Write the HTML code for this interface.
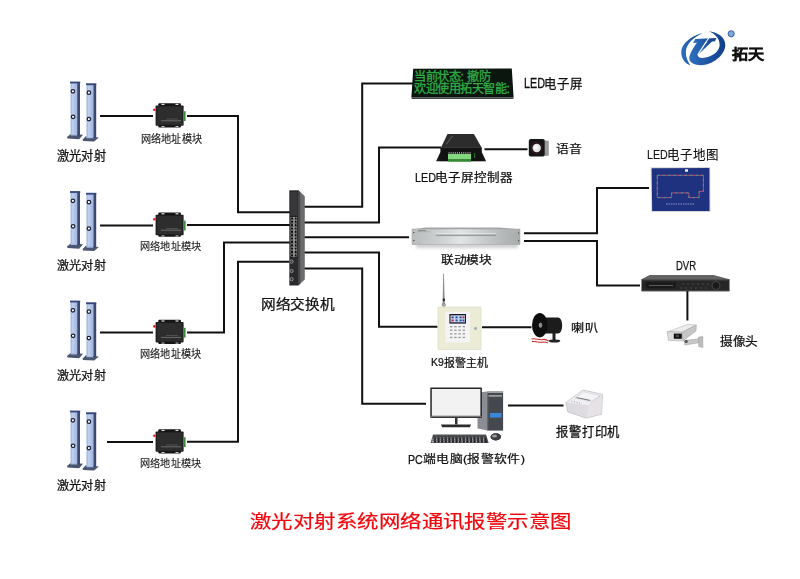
<!DOCTYPE html>
<html lang="zh-CN"><head><meta charset="utf-8">
<style>
html,body{margin:0;padding:0;background:#fff;}
body{width:800px;height:579px;position:relative;overflow:hidden;font-family:"Liberation Sans",sans-serif;color:#111;font-weight:500;-webkit-text-stroke:0.25px #111;}
svg{position:absolute;left:0;top:0;}
.t{position:absolute;white-space:nowrap;line-height:1;transform-origin:0 0;}
.sm{font-size:10px;letter-spacing:0.5px;transform:scaleY(1.22);transform-origin:0 0;}
</style></head><body>
<svg width="800" height="579" viewBox="0 0 800 579">

<g fill="none" stroke="#111" stroke-width="2" stroke-linejoin="miter">
<path d="M100 116H153M187 116H238V212.3H290"/>
<path d="M100 225.4H153M187 225H290"/>
<path d="M100 332.6H153M187 332.4H224V242.5H290"/>
<path d="M107 442H153M187 441.8H238V261.8H290"/>
<path d="M304 206.8H362.2V83.5H413"/>
<path d="M304 222.5H379V147.6H441"/>
<path d="M484.5 149.2H527.5"/>
<path d="M304 237.3H409"/>
<path d="M304 252.4H379V326.8H437.5"/>
<path d="M482 327.3H531.5"/>
<path d="M304 268.6H362.2V403.8H426"/>
<path d="M508 405.4H563.5"/>
<path d="M524 233.2H597V188H649"/>
<path d="M524 241H597V285.5H640"/>
<path d="M687.4 291V320.5"/>
</g>

<g id="tw">
<!-- base plates -->
<path d="M67 137L71 133.8L83 134.7L79.2 139.2L67.5 138.6Z" fill="#4a5570"/>
<path d="M82.5 139.8L85.8 136.3L98.8 137.5L94.2 141.6L83 141Z" fill="#4a5570"/>
<!-- tower 1 -->
<rect x="70.5" y="82.5" width="6.7" height="53" fill="#a9bde3"/>
<rect x="72" y="84" width="2.5" height="50" fill="#bccdee"/>
<rect x="77.2" y="82.5" width="2.8" height="53" fill="#3a4872"/>
<rect x="70" y="81.6" width="10.2" height="1.8" fill="#34457a"/>
<!-- tower 2 -->
<rect x="86.4" y="84.2" width="7" height="54" fill="#a9bde3"/>
<rect x="88" y="86" width="2.5" height="51" fill="#bccdee"/>
<rect x="93.4" y="84.2" width="2.8" height="54" fill="#3a4872"/>
<rect x="86" y="83.3" width="10.3" height="1.8" fill="#34457a"/>
<!-- holes -->
<g fill="#fff" stroke="#1a1e2e" stroke-width="1.2">
<circle cx="72.9" cy="91.3" r="1.75"/>
<circle cx="73.1" cy="116.8" r="1.75"/>
<circle cx="88.9" cy="92.7" r="1.75"/>
<circle cx="88.9" cy="119.1" r="1.75"/>
</g>
</g>

<g id="md">
<rect x="158.3" y="103.2" width="22.6" height="24.2" rx="1" fill="#151515"/>
<rect x="155.6" y="105.4" width="28" height="20.4" rx="0.8" fill="#1a1a1a"/>
<rect x="156.8" y="106.4" width="25.6" height="18.4" fill="#2d2d2d"/>
<rect x="161.5" y="103.8" width="3" height="1.2" fill="#ddd"/>
<rect x="175.5" y="103.8" width="3" height="1.2" fill="#ddd"/>
<rect x="161.5" y="126" width="3" height="1" fill="#ccc"/>
<rect x="175.5" y="126" width="3" height="1" fill="#ccc"/>
<circle cx="154.4" cy="109.8" r="1.3" fill="#e02020"/>
<rect x="183.6" y="111.2" width="2" height="9.8" fill="#3c8a3c"/>
<rect x="161" y="120.3" width="20" height="1" fill="#888" opacity="0.7"/>
<rect x="166" y="118.6" width="12" height="0.8" fill="#777" opacity="0.6"/>
</g>

<use href="#tw" transform="translate(0 109.5)"/>
<use href="#tw" transform="translate(0 219)"/>
<use href="#tw" transform="translate(0 329)"/>
<use href="#md" transform="translate(0 109.4)"/>
<use href="#md" transform="translate(0 216.6)"/>
<use href="#md" transform="translate(0 326)"/>

<g id="swg">
<path d="M298.3 190.3L304.8 196.2V279.6L298.3 285.5Z" fill="#6c6c6e"/>
<path d="M298.3 190.3L300.3 192.1V283.7L298.3 285.5Z" fill="#4a4a4c"/>
<rect x="289.3" y="190.3" width="9.2" height="95.2" fill="#2a2a2e"/>
<rect x="290.4" y="192" width="7" height="23.5" fill="#38383c"/>
<rect x="290.2" y="216.3" width="7.3" height="41.5" fill="#1a1a1a"/>
<g fill="#0c0c0c" stroke="#b4b4b4" stroke-width="0.45"><rect x="290.8" y="217.20" width="2.6" height="2.5" /><rect x="294.3" y="217.20" width="2.6" height="2.5" /><rect x="290.8" y="220.55" width="2.6" height="2.5" /><rect x="294.3" y="220.55" width="2.6" height="2.5" /><rect x="290.8" y="223.90" width="2.6" height="2.5" /><rect x="294.3" y="223.90" width="2.6" height="2.5" /><rect x="290.8" y="227.25" width="2.6" height="2.5" /><rect x="294.3" y="227.25" width="2.6" height="2.5" /><rect x="290.8" y="230.60" width="2.6" height="2.5" /><rect x="294.3" y="230.60" width="2.6" height="2.5" /><rect x="290.8" y="233.95" width="2.6" height="2.5" /><rect x="294.3" y="233.95" width="2.6" height="2.5" /><rect x="290.8" y="237.30" width="2.6" height="2.5" /><rect x="294.3" y="237.30" width="2.6" height="2.5" /><rect x="290.8" y="240.65" width="2.6" height="2.5" /><rect x="294.3" y="240.65" width="2.6" height="2.5" /><rect x="290.8" y="244.00" width="2.6" height="2.5" /><rect x="294.3" y="244.00" width="2.6" height="2.5" /><rect x="290.8" y="247.35" width="2.6" height="2.5" /><rect x="294.3" y="247.35" width="2.6" height="2.5" /><rect x="290.8" y="250.70" width="2.6" height="2.5" /><rect x="294.3" y="250.70" width="2.6" height="2.5" /><rect x="290.8" y="254.05" width="2.6" height="2.5" /><rect x="294.3" y="254.05" width="2.6" height="2.5" />
</g>
<path d="M293.85 217V257.5" stroke="#e0e0e0" stroke-width="0.6"/>
<g fill="#333" stroke="#a8a8a8" stroke-width="0.8">
<circle cx="291.6" cy="261.6" r="1.6"/><circle cx="291.6" cy="271" r="1.6"/><circle cx="291.6" cy="279.2" r="1.6"/>
</g>
</g>

<g id="ledscr">
<path d="M413.2 68.7L511.8 68.6L513.6 97.3L411.4 97.3Z" fill="#0b170e"/>
<path d="M411.4 97.3L513.6 97.3L513.4 99L411.8 99Z" fill="#444"/>
<g id="ledtxt" fill="#2fae48" stroke="#2fae48" stroke-width="0.3" font-family="Liberation Sans" font-size="12.2" letter-spacing="-0.5">
<text x="414.4" y="80.6">当前状态:</text>
<text x="467" y="80.6">撤防</text>
<text x="414.4" y="93.2">欢迎使用拓天智能:</text>
</g>
</g>

<g id="ctrl">
<path d="M440.2 152.4L436.1 161.2H486.1L482 152.4Z" fill="#151515"/>
<path d="M447.5 134.1H473.9L481.6 147.5H441Z" fill="#2c2c2c"/>
<rect x="440.4" y="147.3" width="41.4" height="13.8" fill="#121212"/>
<rect x="448" y="153.9" width="23" height="5.6" fill="#86d880"/>
<rect x="448" y="159.3" width="23" height="2.4" fill="#3a9a3a"/>
<g fill="#cfcfcf"><rect x="448.6" y="152.2" width="0.9" height="1.3"/><rect x="450.7" y="152.2" width="0.9" height="1.3"/><rect x="452.8" y="152.2" width="0.9" height="1.3"/><rect x="454.9" y="152.2" width="0.9" height="1.3"/><rect x="457.0" y="152.2" width="0.9" height="1.3"/><rect x="459.1" y="152.2" width="0.9" height="1.3"/><rect x="461.2" y="152.2" width="0.9" height="1.3"/><rect x="463.3" y="152.2" width="0.9" height="1.3"/><rect x="465.4" y="152.2" width="0.9" height="1.3"/><rect x="467.5" y="152.2" width="0.9" height="1.3"/><rect x="469.6" y="152.2" width="0.9" height="1.3"/></g>
<path d="M446.5 144L452.5 136" stroke="#9a9a9a" stroke-width="0.5"/>
<g fill="#2c7a2c"><rect x="448.8" y="159.6" width="1" height="1.4"/><rect x="450.9" y="159.6" width="1" height="1.4"/><rect x="453.0" y="159.6" width="1" height="1.4"/><rect x="455.1" y="159.6" width="1" height="1.4"/><rect x="457.2" y="159.6" width="1" height="1.4"/><rect x="459.3" y="159.6" width="1" height="1.4"/><rect x="461.4" y="159.6" width="1" height="1.4"/><rect x="463.5" y="159.6" width="1" height="1.4"/><rect x="465.6" y="159.6" width="1" height="1.4"/><rect x="467.7" y="159.6" width="1" height="1.4"/><rect x="469.8" y="159.6" width="1" height="1.4"/></g>
<rect x="474" y="153" width="1.2" height="5" fill="#2f6a2f"/>
</g>

<g id="spk">
<path d="M544.7 140.3L548.8 141V155.4L544.7 156.2Z" fill="#9a9a9a"/>
<rect x="528.8" y="139.1" width="16" height="17.4" rx="2" fill="#151515"/>
<circle cx="536.7" cy="148" r="5.4" fill="none" stroke="#5a1a1a" stroke-width="0.6"/>
<circle cx="536.7" cy="148" r="4.2" fill="#e6e6e8"/>
<circle cx="536" cy="147.2" r="2" fill="#fafafa"/>
</g>

<g id="ledmap">
<path d="M650.6 167.2L710.3 167L710.6 212L651.2 212Z" fill="#d6d6d8"/>
<path d="M651.6 168.2L709.4 168L709.5 210.9L652.2 210.9Z" fill="#1f3280"/>
<path d="M657.3 175.3H703.4V191.4H699.1V197.6H688.9V192.9H671.6V197.6H657.3Z" fill="none" stroke="#b84a78" stroke-width="1"/>
<path d="M657.3 175.3H703.4V191.4H699.1V197.6H688.9V192.9H671.6V197.6H657.3Z" fill="none" stroke="#3aa88a" stroke-width="1" stroke-dasharray="2 3.5"/>
<rect x="685" y="169.3" width="3" height="2.4" fill="#eee"/>
<path d="M666 204H695" stroke="#b0b8d8" stroke-width="0.9" stroke-dasharray="1.6 0.8" opacity="0.8"/>
</g>

<g id="link">
<defs>
<linearGradient id="lkh" x1="0" y1="0" x2="1" y2="0"><stop offset="0" stop-color="#b8bcbc"/><stop offset="0.3" stop-color="#d0d4d4"/><stop offset="0.45" stop-color="#e2e5e5"/><stop offset="0.62" stop-color="#cdd1d1"/><stop offset="0.85" stop-color="#b4b8b8"/><stop offset="1" stop-color="#a8acac"/></linearGradient>
<filter id="lkblur" x="-20%" y="-100%" width="140%" height="300%"><feGaussianBlur stdDeviation="1.5"/></filter>
</defs>
<rect x="416" y="243" width="102" height="5" fill="#999" opacity="0.45" filter="url(#lkblur)"/>
<path d="M425 227.4H500L520 229.4H412Z" fill="#a4a8a8"/>
<rect x="412" y="229" width="108" height="15.5" fill="url(#lkh)"/>
<rect x="412" y="229" width="108" height="15.5" fill="none" stroke="#9a9e9e" stroke-width="0.5"/>
<rect x="436" y="234.6" width="60" height="1.5" fill="#9a9e9e"/>
<rect x="436" y="233.4" width="60" height="0.6" fill="#eef0f0"/>
<rect x="418" y="230.3" width="8" height="0.8" fill="#777"/>
<rect x="417.5" y="231.6" width="13" height="0.5" fill="#999"/>
<rect x="413.2" y="232" width="1.2" height="1.2" fill="#555"/>
<rect x="413.2" y="240" width="1.2" height="1.2" fill="#555"/>
<rect x="518" y="232.4" width="1.2" height="1.2" fill="#555"/>
<rect x="518" y="240" width="1.2" height="1.2" fill="#555"/>
</g>

<g id="dvr">
<path d="M649.7 274.9H713.5L729.5 279.3H641.5Z" fill="#646464"/>
<rect x="641.5" y="279.2" width="88" height="12" rx="0.6" fill="#262626"/>
<rect x="641.5" y="279.2" width="88" height="1.2" fill="#505050"/><rect x="641.5" y="290.2" width="88" height="1" fill="#4a4a4a"/>
<rect x="646" y="282.2" width="30" height="6" fill="#1a1a1a"/>
<rect x="649" y="285" width="24" height="0.7" fill="#777"/>
<g fill="#555"><circle cx="683" cy="284" r="0.7"/><circle cx="681" cy="288" r="0.7"/><circle cx="688" cy="284" r="0.7"/><circle cx="686" cy="288" r="0.7"/><circle cx="693" cy="284" r="0.7"/><circle cx="691" cy="288" r="0.7"/><circle cx="698" cy="284" r="0.7"/><circle cx="696" cy="288" r="0.7"/><circle cx="703" cy="284" r="0.7"/><circle cx="701" cy="288" r="0.7"/><circle cx="708" cy="284" r="0.7"/><circle cx="706" cy="288" r="0.7"/></g>
<circle cx="716" cy="285.5" r="4" fill="#1a1a1a" stroke="#555" stroke-width="0.7"/>
</g>

<g id="camg">
<path d="M684.2 340.6L700.7 338.6L700.9 342.4L684.8 345Z" fill="#c8c8c8" stroke="#9a9a9a" stroke-width="0.5"/>
<path d="M698.7 337.1L702.8 336.6V347.5L698.7 346.5Z" fill="#bdbdbd" stroke="#999" stroke-width="0.5"/>
<circle cx="686.2" cy="341.4" r="1.6" fill="#555"/>
<path d="M667.6 331.9L687.6 324.3L696.3 325L682.1 332.3Z" fill="#ececec" stroke="#aaa" stroke-width="0.5"/>
<path d="M682.1 332.3L696.3 325L696 330.9L682.8 340.9Z" fill="#c6c6c6" stroke="#999" stroke-width="0.5"/>
<path d="M667.2 331.6L682.1 332.3L682.8 340.9L668.5 340.3Z" fill="#dedede" stroke="#999" stroke-width="0.5"/>
<rect x="673.8" y="333.6" width="8" height="5.2" fill="#121212"/>
<rect x="675.8" y="334.8" width="3.2" height="2.4" fill="#4a4a4a"/>
</g>

<g id="k9">
<path d="M443.2 273.5L443.9 273.5L444.8 304L442.6 304Z" fill="#8c8c8c"/>
<rect x="442.8" y="298.5" width="2" height="2.6" fill="#222"/>
<circle cx="443.7" cy="304.8" r="1.7" fill="#aaa" stroke="#666" stroke-width="0.5"/>
<rect x="438" y="307" width="43" height="42.5" fill="#ebebd6"/>
<rect x="438" y="307" width="43" height="42.5" fill="none" stroke="#d6d6c2" stroke-width="0.6"/>
<rect x="445.3" y="312" width="24.7" height="30.5" fill="#f4f4f4"/>
<rect x="449.4" y="314" width="16.6" height="9.6" fill="#1a1a2a"/>
<rect x="450.5" y="315.3" width="14.5" height="7" fill="#c8d8f0"/>
<g fill="#2a4aa0"><rect x="451.5" y="316.5" width="2.2" height="1.8"/><rect x="455.5" y="316.5" width="2.2" height="1.8"/><rect x="459.5" y="316.5" width="2.2" height="1.8"/><rect x="455.5" y="319.5" width="2.2" height="1.8"/><rect x="459.5" y="319.5" width="2.2" height="1.8"/><rect x="462.5" y="319.5" width="2" height="1.8"/></g>
<rect x="451.5" y="319.5" width="2.2" height="1.8" fill="#d02020"/>
<rect x="462.5" y="316.5" width="2" height="1.8" fill="#d02020"/>
<g fill="#999"><rect x="450.0" y="326.0" width="2.4" height="1.3"/><rect x="454.2" y="326.0" width="2.4" height="1.3"/><rect x="458.4" y="326.0" width="2.4" height="1.3"/><rect x="462.6" y="326.0" width="2.4" height="1.3"/><rect x="450.0" y="329.6" width="2.4" height="1.3"/><rect x="454.2" y="329.6" width="2.4" height="1.3"/><rect x="458.4" y="329.6" width="2.4" height="1.3"/><rect x="462.6" y="329.6" width="2.4" height="1.3"/><rect x="450.0" y="333.2" width="2.4" height="1.3"/><rect x="454.2" y="333.2" width="2.4" height="1.3"/><rect x="458.4" y="333.2" width="2.4" height="1.3"/><rect x="462.6" y="333.2" width="2.4" height="1.3"/><rect x="450.0" y="336.8" width="2.4" height="1.3"/><rect x="454.2" y="336.8" width="2.4" height="1.3"/><rect x="458.4" y="336.8" width="2.4" height="1.3"/><rect x="462.6" y="336.8" width="2.4" height="1.3"/></g>
<circle cx="475.5" cy="328.5" r="1.4" fill="#9ab" />
</g>

<g id="horn">
<path d="M531.5 339C535 338 540 340.5 543 339.5C545 339 547 340 548.5 341" fill="none" stroke="#d02828" stroke-width="1.1"/>
<path d="M532 341.5C536 341 539 343 543 342.2C545 341.8 547 342.5 548 343" fill="none" stroke="#c02020" stroke-width="1"/>
<ellipse cx="554.5" cy="341" rx="5.8" ry="1.6" fill="#222"/>
<rect x="552.5" y="333" width="3" height="8" fill="#222"/>
<path d="M540 317.4H558C563.5 317.4 563.5 333.4 558 333.4H540Z" fill="#1c1c1c"/>
<ellipse cx="539.8" cy="325.2" rx="7.8" ry="12.2" fill="#0e0e0e"/>
<ellipse cx="540.5" cy="325.2" rx="1.8" ry="2.6" fill="#8a8a8a"/>
</g>

<g id="pcg">
<path d="M477.5 392.5L487.5 391.5V430.6L477.5 428.5Z" fill="#8a8e94"/>
<rect x="487.3" y="391.5" width="15.8" height="39.1" fill="#45484e"/>
<rect x="487.3" y="391.5" width="15.8" height="1.4" fill="#aaa"/>
<rect x="488.5" y="395" width="13.5" height="1.8" fill="#9a9a9a"/>
<rect x="487.3" y="397" width="1" height="33" fill="#666"/>
<rect x="490" y="413" width="11.5" height="4.6" fill="#3a86d8"/>
<rect x="430.3" y="387.5" width="51.6" height="30.5" rx="0.8" fill="#262628"/>
<rect x="431.8" y="389" width="48.6" height="26.8" fill="#f2f2f2"/>
<rect x="430.8" y="416" width="50.6" height="1.2" fill="#777"/>
<rect x="455" y="418" width="2.5" height="6.5" fill="#333"/>
<path d="M441 424.5H471L470 427.2H442Z" fill="#2a2a2a"/>
<path d="M433 434.4H486L488.7 443H430.6Z" fill="#4a4c52"/>
<g fill="#c4c6ca"><rect x="433.0" y="435.5" width="2.4" height="1.1"/><rect x="436.6" y="435.5" width="2.4" height="1.1"/><rect x="440.2" y="435.5" width="2.4" height="1.1"/><rect x="443.8" y="435.5" width="2.4" height="1.1"/><rect x="447.4" y="435.5" width="2.4" height="1.1"/><rect x="451.0" y="435.5" width="2.4" height="1.1"/><rect x="454.6" y="435.5" width="2.4" height="1.1"/><rect x="458.2" y="435.5" width="2.4" height="1.1"/><rect x="461.8" y="435.5" width="2.4" height="1.1"/><rect x="465.4" y="435.5" width="2.4" height="1.1"/><rect x="469.0" y="435.5" width="2.4" height="1.1"/><rect x="472.6" y="435.5" width="2.4" height="1.1"/><rect x="476.2" y="435.5" width="2.4" height="1.1"/><rect x="479.8" y="435.5" width="2.4" height="1.1"/><rect x="483.4" y="435.5" width="2.4" height="1.1"/><rect x="432.6" y="437.4" width="2.4" height="1.1"/><rect x="436.2" y="437.4" width="2.4" height="1.1"/><rect x="439.8" y="437.4" width="2.4" height="1.1"/><rect x="443.4" y="437.4" width="2.4" height="1.1"/><rect x="447.0" y="437.4" width="2.4" height="1.1"/><rect x="450.6" y="437.4" width="2.4" height="1.1"/><rect x="454.2" y="437.4" width="2.4" height="1.1"/><rect x="457.8" y="437.4" width="2.4" height="1.1"/><rect x="461.4" y="437.4" width="2.4" height="1.1"/><rect x="465.0" y="437.4" width="2.4" height="1.1"/><rect x="468.6" y="437.4" width="2.4" height="1.1"/><rect x="472.2" y="437.4" width="2.4" height="1.1"/><rect x="475.8" y="437.4" width="2.4" height="1.1"/><rect x="479.4" y="437.4" width="2.4" height="1.1"/><rect x="483.0" y="437.4" width="2.4" height="1.1"/><rect x="432.2" y="439.3" width="2.4" height="1.1"/><rect x="435.8" y="439.3" width="2.4" height="1.1"/><rect x="439.4" y="439.3" width="2.4" height="1.1"/><rect x="443.0" y="439.3" width="2.4" height="1.1"/><rect x="446.6" y="439.3" width="2.4" height="1.1"/><rect x="450.2" y="439.3" width="2.4" height="1.1"/><rect x="453.8" y="439.3" width="2.4" height="1.1"/><rect x="457.4" y="439.3" width="2.4" height="1.1"/><rect x="461.0" y="439.3" width="2.4" height="1.1"/><rect x="464.6" y="439.3" width="2.4" height="1.1"/><rect x="468.2" y="439.3" width="2.4" height="1.1"/><rect x="471.8" y="439.3" width="2.4" height="1.1"/><rect x="475.4" y="439.3" width="2.4" height="1.1"/><rect x="479.0" y="439.3" width="2.4" height="1.1"/><rect x="482.6" y="439.3" width="2.4" height="1.1"/><rect x="431.8" y="441.2" width="2.4" height="1.1"/><rect x="435.4" y="441.2" width="2.4" height="1.1"/><rect x="439.0" y="441.2" width="2.4" height="1.1"/><rect x="442.6" y="441.2" width="2.4" height="1.1"/><rect x="446.2" y="441.2" width="2.4" height="1.1"/><rect x="449.8" y="441.2" width="2.4" height="1.1"/><rect x="453.4" y="441.2" width="2.4" height="1.1"/><rect x="457.0" y="441.2" width="2.4" height="1.1"/><rect x="460.6" y="441.2" width="2.4" height="1.1"/><rect x="464.2" y="441.2" width="2.4" height="1.1"/><rect x="467.8" y="441.2" width="2.4" height="1.1"/><rect x="471.4" y="441.2" width="2.4" height="1.1"/><rect x="475.0" y="441.2" width="2.4" height="1.1"/><rect x="478.6" y="441.2" width="2.4" height="1.1"/><rect x="482.2" y="441.2" width="2.4" height="1.1"/></g>
<ellipse cx="495.8" cy="436.8" rx="5.2" ry="3.6" fill="#3c3c40"/>
<ellipse cx="494.5" cy="436" rx="2.6" ry="1.6" fill="#9a9a9e"/>
</g>
<rect x="433.0" y="435.6" width="2.4" height="1"/><rect x="436.6" y="435.6" width="2.4" height="1"/><rect x="440.2" y="435.6" width="2.4" height="1"/><rect x="443.8" y="435.6" width="2.4" height="1"/><rect x="447.4" y="435.6" width="2.4" height="1"/><rect x="451.0" y="435.6" width="2.4" height="1"/><rect x="454.6" y="435.6" width="2.4" height="1"/><rect x="458.2" y="435.6" width="2.4" height="1"/><rect x="461.8" y="435.6" width="2.4" height="1"/><rect x="465.4" y="435.6" width="2.4" height="1"/><rect x="469.0" y="435.6" width="2.4" height="1"/><rect x="472.6" y="435.6" width="2.4" height="1"/><rect x="476.2" y="435.6" width="2.4" height="1"/><rect x="479.8" y="435.6" width="2.4" height="1"/><rect x="483.4" y="435.6" width="2.4" height="1"/><rect x="433.3" y="437.5" width="2.4" height="1"/><rect x="436.9" y="437.5" width="2.4" height="1"/><rect x="440.5" y="437.5" width="2.4" height="1"/><rect x="444.1" y="437.5" width="2.4" height="1"/><rect x="447.7" y="437.5" width="2.4" height="1"/><rect x="451.3" y="437.5" width="2.4" height="1"/><rect x="454.9" y="437.5" width="2.4" height="1"/><rect x="458.5" y="437.5" width="2.4" height="1"/><rect x="462.1" y="437.5" width="2.4" height="1"/><rect x="465.7" y="437.5" width="2.4" height="1"/><rect x="469.3" y="437.5" width="2.4" height="1"/><rect x="472.9" y="437.5" width="2.4" height="1"/><rect x="476.5" y="437.5" width="2.4" height="1"/><rect x="480.1" y="437.5" width="2.4" height="1"/><rect x="483.7" y="437.5" width="2.4" height="1"/><rect x="433.6" y="439.4" width="2.4" height="1"/><rect x="437.2" y="439.4" width="2.4" height="1"/><rect x="440.8" y="439.4" width="2.4" height="1"/><rect x="444.4" y="439.4" width="2.4" height="1"/><rect x="448.0" y="439.4" width="2.4" height="1"/><rect x="451.6" y="439.4" width="2.4" height="1"/><rect x="455.2" y="439.4" width="2.4" height="1"/><rect x="458.8" y="439.4" width="2.4" height="1"/><rect x="462.4" y="439.4" width="2.4" height="1"/><rect x="466.0" y="439.4" width="2.4" height="1"/><rect x="469.6" y="439.4" width="2.4" height="1"/><rect x="473.2" y="439.4" width="2.4" height="1"/><rect x="476.8" y="439.4" width="2.4" height="1"/><rect x="480.4" y="439.4" width="2.4" height="1"/><rect x="484.0" y="439.4" width="2.4" height="1"/><rect x="433.9" y="441.3" width="2.4" height="1"/><rect x="437.5" y="441.3" width="2.4" height="1"/><rect x="441.1" y="441.3" width="2.4" height="1"/><rect x="444.7" y="441.3" width="2.4" height="1"/><rect x="448.3" y="441.3" width="2.4" height="1"/><rect x="451.9" y="441.3" width="2.4" height="1"/><rect x="455.5" y="441.3" width="2.4" height="1"/><rect x="459.1" y="441.3" width="2.4" height="1"/><rect x="462.7" y="441.3" width="2.4" height="1"/><rect x="466.3" y="441.3" width="2.4" height="1"/><rect x="469.9" y="441.3" width="2.4" height="1"/><rect x="473.5" y="441.3" width="2.4" height="1"/><rect x="477.1" y="441.3" width="2.4" height="1"/><rect x="480.7" y="441.3" width="2.4" height="1"/><rect x="484.3" y="441.3" width="2.4" height="1"/></g>
<ellipse cx="495.8" cy="436.8" rx="5.2" ry="3.6" fill="#3c3c40"/>
<ellipse cx="494.5" cy="436" rx="2.6" ry="1.6" fill="#9a9a9e"/>
</g>

<g id="prng" stroke-linejoin="round">
<path d="M565.9 402.5L583 390.1L602.4 394.4L601.6 414.2L586.1 418L567.8 411.9Z" fill="#e2e0e4" stroke="#bdbbc2" stroke-width="0.8"/>
<path d="M566.5 402.3L583 390.6L601.8 394.8L588.4 405.2Z" fill="#efeef1"/>
<path d="M588.4 405.3L602 394.6L601.4 414L586.3 417.6Z" fill="#e6e2e6"/>
<path d="M567 403L588.2 405.6L586.3 417.4L568.2 411.6Z" fill="#dddbe0"/>
<path d="M575 397.8L583.5 391.8L600 395.4L591 401.5Z" fill="#f4f3f6" stroke="#c4c2c8" stroke-width="0.5"/>
<path d="M576.6 397.6L590.2 400.4" stroke="#6a6a6e" stroke-width="0.9"/>
<g fill="#8a8a90"><circle cx="572" cy="401.2" r="0.5"/><circle cx="574.5" cy="401.8" r="0.5"/><circle cx="577" cy="402.4" r="0.5"/><circle cx="579.5" cy="403" r="0.5"/></g>
<path d="M590 404L600.5 396" stroke="#cfcbd2" stroke-width="0.6"/>
</g>

<g id="logog">
<defs><linearGradient id="lg" x1="0" y1="0" x2="1" y2="0"><stop offset="0" stop-color="#2d6fbf"/><stop offset="1" stop-color="#123f8a"/></linearGradient></defs>
<g fill="url(#lg)">
<path d="M702.6 33.2C694 34.8 682 42 681.3 51.5C680.8 58 685 63.5 690.4 65.5C687.6 61.5 685.6 57 685.8 51.8C686.2 44 693.5 37 702.6 33.2Z"/>
<path d="M708.6 31.3C716.5 31.8 725.8 37 725.3 45.5C724.8 55.5 712 65.2 701 65.2C693 65.2 688.2 61.5 689.4 56.5C690.8 52 694 46.5 697.8 41.6L707.3 39.6L697.6 54.2C697.4 56.5 699 58 702.5 58C711 57.8 719.3 52 719.6 45.3C719.9 38.5 715 33.8 708.6 31.3Z"/>
<path d="M692.9 43L695.4 39.1L716.4 38.1L715 41.3Z"/>
<path d="M708.2 40.6L713 40.4L698.4 54.6L698.2 52Z"/>
</g>
<path d="M709.2 37.2L697.9 54.6" stroke="#fff" stroke-width="1.1"/>
</g>
<circle cx="731.2" cy="33.8" r="3.1" fill="#7aa6d8" stroke="#2a5aa0" stroke-width="0.9"/>

</svg>
<div class="t" id="t_tx1" style="left:57.10px;top:149.00px;font-size:13px;transform:scale(0.938,0.981)">激光对射</div>
<div class="t" id="t_tx2" style="left:57.00px;top:259.50px;font-size:13px;transform:scale(0.937,0.923)">激光对射</div>
<div class="t" id="t_tx3" style="left:57.00px;top:369.50px;font-size:13px;transform:scale(0.937,0.923)">激光对射</div>
<div class="t" id="t_tx4" style="left:57.00px;top:479.50px;font-size:13px;transform:scale(0.937,0.946)">激光对射</div>
<div class="t" id="t_m1" style="left:140.68px;top:134.08px;font-size:10px;color:#1a1a1a;-webkit-text-stroke-color:#1a1a1a;-webkit-text-stroke-width:0.12px;transform:scale(1.015,1.080)">网络地址模块</div>
<div class="t" id="t_m2" style="left:140.48px;top:242.03px;font-size:10px;color:#1a1a1a;-webkit-text-stroke-color:#1a1a1a;-webkit-text-stroke-width:0.12px;transform:scale(1.017,1.030)">网络地址模块</div>
<div class="t" id="t_m3" style="left:140.48px;top:349.09px;font-size:10px;color:#1a1a1a;-webkit-text-stroke-color:#1a1a1a;-webkit-text-stroke-width:0.12px;transform:scale(1.017,1.090)">网络地址模块</div>
<div class="t" id="t_m4" style="left:140.48px;top:459.03px;font-size:10px;color:#1a1a1a;-webkit-text-stroke-color:#1a1a1a;-webkit-text-stroke-width:0.12px;transform:scale(1.017,1.030)">网络地址模块</div>
<div class="t" id="t_sw" style="left:261.35px;top:297.80px;font-size:14px;transform:scale(1.048,0.936)">网络交换机</div>
<div class="t" id="t_led_l" style="left:524.17px;top:76.38px;font-size:13px;transform:scale(0.833,1.111)">LED</div>
<div class="t" id="t_led_c" style="left:544.31px;top:77.72px;font-size:12.5px;transform:scale(0.989,1.017)">电子屏</div>
<div class="t" id="t_ctl_l" style="left:414.67px;top:170.92px;font-size:13px;transform:scale(0.829,0.989)">LED</div>
<div class="t" id="t_ctl_c" style="left:435.09px;top:172.47px;font-size:12.5px;transform:scale(1.005,0.975)">电子屏控制器</div>
<div class="t" id="t_yy" style="left:556.21px;top:142.90px;font-size:13px;transform:scale(0.988,0.912)">语音</div>
<div class="t" id="t_map_l" style="left:646.58px;top:147.84px;font-size:13px;-webkit-text-stroke-width:0.12px;transform:scale(0.821,0.978)">LED</div>
<div class="t" id="t_map_c" style="left:667.10px;top:148.72px;font-size:12.5px;-webkit-text-stroke-width:0.12px;transform:scale(1.000,1.017)">电子地图</div>
<div class="t" id="t_ld" style="left:441.40px;top:254.20px;font-size:13px;transform:scale(0.977,0.908)">联动模块</div>
<div class="t" id="t_dvr" style="left:676.07px;top:258.80px;font-size:13px;transform:scale(0.731,1.000)">DVR</div>
<div class="t" id="t_cam" style="left:719.50px;top:334.50px;font-size:13px;transform:scale(0.974,0.962)">摄像头</div>
<div class="t" id="t_lb" style="left:570.70px;top:322.92px;font-size:12.5px;transform:scale(1.052,0.917)">喇叭</div>
<div class="t" id="t_k9_l" style="left:431.13px;top:357.07px;font-size:12px;transform:scale(0.869,0.933)">K9</div>
<div class="t" id="t_k9_c" style="left:444.20px;top:357.53px;font-size:12px;transform:scale(0.908,0.933)">报警主机</div>
<div class="t" id="t_prn" style="left:556.10px;top:426.21px;font-size:12.5px;transform:scale(0.988,1.008)">报警打印机</div>
<div class="t" id="t_pc_l" style="left:408.08px;top:452.60px;font-size:13px;transform:scale(0.818,1.000)">PC</div>
<div class="t" id="t_pc_c" style="left:423.30px;top:454.23px;font-size:12.5px;transform:scale(1.027,0.925)">端电脑(报警软件)</div>
<div class="t" id="t_logo" style="left:731.90px;top:47.96px;font-size:16px;font-weight:700;-webkit-text-stroke-width:0.35px;transform:scale(1.006,0.853)">拓天</div>
<div class="t" id="t_title" style="left:250.18px;top:513.38px;font-size:20px;font-weight:400;color:#f2070d;-webkit-text-stroke-color:#f2070d;transform:scale(1.072,0.885)">激光对射系统网络通讯报警示意图</div>

</body></html>
